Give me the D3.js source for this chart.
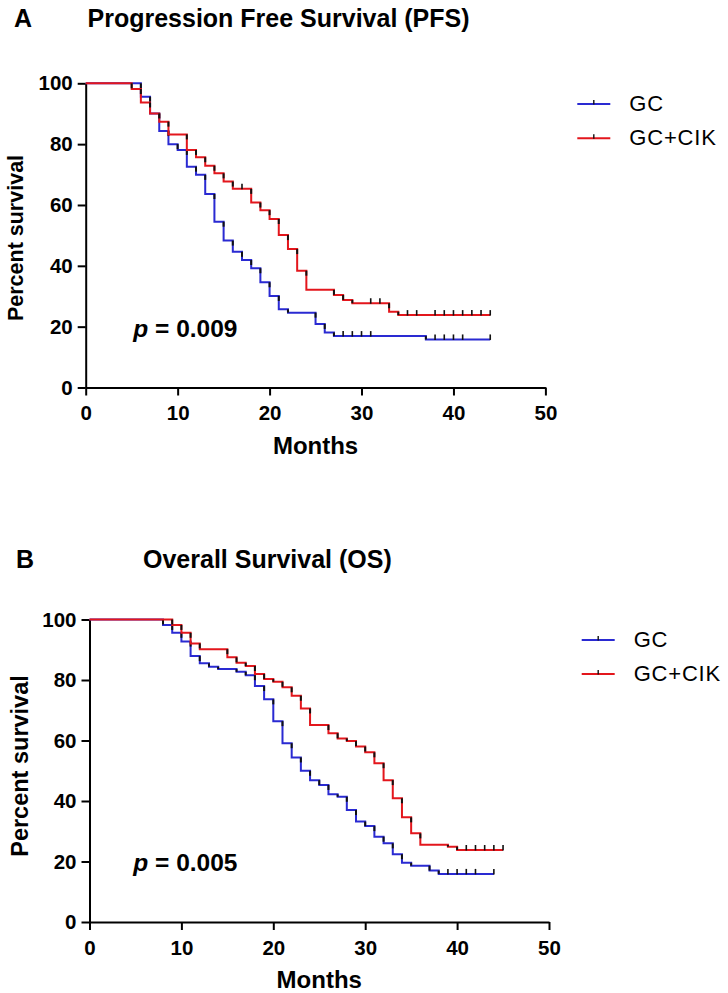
<!DOCTYPE html>
<html>
<head>
<meta charset="utf-8">
<script src="https://cdn.jsdelivr.net/npm/d3@7"></script>
<style>
body { margin: 0; background: #fff; }
text { font-family: "Liberation Sans", Arial, sans-serif; fill: #000; }
</style>
</head>
<body>
<svg width="728" height="993"></svg>
<script>
// data
var seriesNames = ['GC', 'GC+CIK'];
var panelLetters = ['A', 'B'];
var panelTitles = ['Progression Free Survival (PFS)', 'Overall Survival (OS)'];
var pValues = ['0.009', '0.005'];
var xTicks = [0, 10, 20, 30, 40, 50];
var yTicks = [0, 20, 40, 60, 80, 100];

var pfsGcTime   = [0, 6, 7, 8, 9, 10, 11, 12, 13, 14, 15, 16, 17, 18, 19, 20, 21, 22, 25, 26, 27, 37];
var pfsGcSurv   = [100, 95.6, 90.1, 84.3, 80.0, 78.1, 72.6, 69.9, 63.6, 54.5, 48.3, 44.6, 41.9, 39.2, 34.6, 30.1, 25.7, 24.6, 20.9, 18.1, 16.9, 15.8];
var pfsGcCensor = [28, 29, 30, 31, 38, 39, 40, 41, 44];

var pfsCikTime   = [0, 5, 6, 7, 8, 9, 11, 12, 13, 14, 15, 16, 18, 19, 20, 21, 22, 23, 24, 27, 28, 29, 33, 34];
var pfsCikSurv   = [100, 98.1, 93.7, 90.1, 87.4, 83.2, 78.1, 75.7, 72.9, 70.4, 67.7, 65.3, 60.8, 58.3, 55.4, 50.1, 45.5, 38.4, 32.1, 30.4, 28.8, 27.7, 24.9, 23.8];
var pfsCikCensor = [17, 31, 32, 35, 36, 38, 39, 40, 41, 42, 43, 44];

var osGcTime   = [0, 8, 9, 10, 11, 12, 13, 14, 16, 17, 18, 19, 20, 21, 22, 23, 24, 25, 26, 27, 28, 29, 30, 31, 32, 33, 34, 35, 37, 38];
var osGcSurv   = [100, 98.2, 95.6, 92.7, 87.9, 85.5, 84.4, 83.6, 82.7, 81.6, 78.0, 73.6, 66.4, 59.1, 54.4, 50.0, 46.9, 45.3, 42.2, 41.4, 37.0, 33.2, 31.7, 28.2, 26.0, 22.4, 19.6, 18.6, 17.0, 15.9];
var osGcCensor = [39, 40, 41, 42, 44];

var osCikTime   = [0, 9, 10, 11, 12, 15, 16, 17, 18, 19, 20, 21, 22, 23, 24, 26, 27, 28, 29, 30, 31, 32, 33, 34, 35, 36, 39, 40];
var osCikSurv   = [100, 98.2, 95.6, 92.1, 90.2, 87.5, 85.7, 84.6, 82.0, 80.3, 79.4, 77.6, 74.8, 70.6, 65.1, 62.4, 60.7, 59.8, 58.0, 56.1, 52.5, 46.9, 40.9, 34.6, 29.3, 25.5, 24.9, 23.8];
var osCikCensor = [41, 42, 43, 44, 45];

var colors = ['#2a2ad2', '#e3161c'];
var svg = d3.select('svg');
svg.append('rect').attr('width', 728).attr('height', 993).attr('fill', '#fff');

var panels = [
  { left: 85.7, right: 545.4, top: 83.3, bottom: 387.5, titleX: 87.5, titleY: 27, letterX: 14,
    yLabX: 23.3, yLabY: 238, yLabSize: 21.5, legX: 577.3, legY: [104, 138.3],
    curves: [[pfsGcTime, pfsGcSurv, pfsGcCensor], [pfsCikTime, pfsCikSurv, pfsCikCensor]] },
  { left: 89.5, right: 549, top: 619.5, bottom: 922, titleX: 143, titleY: 568, letterX: 16,
    yLabX: 28.3, yLabY: 766, yLabSize: 23.5, legX: 581.7, legY: [640, 674],
    curves: [[osGcTime, osGcSurv, osGcCensor], [osCikTime, osCikSurv, osCikCensor]] }
];

panels.forEach(function(p, pi) {
  var x = d3.scaleLinear().domain([0, 50]).range([p.left, p.right]),
      y = d3.scaleLinear().domain([0, 100]).range([p.bottom, p.top]);

  svg.append('text').attr('x', p.letterX).attr('y', p.titleY)
    .style('font-size', '25px').style('font-weight', 'bold').text(panelLetters[pi]);
  svg.append('text').attr('x', p.titleX).attr('y', p.titleY)
    .style('font-size', '25px').style('font-weight', 'bold').text(panelTitles[pi]);

  // axes
  var gx = svg.append('g').attr('transform', 'translate(0,' + p.bottom + ')')
    .call(d3.axisBottom(x).tickValues(xTicks).tickSize(8).tickSizeOuter(0).tickPadding(10));
  var gy = svg.append('g').attr('transform', 'translate(' + p.left + ',0)')
    .call(d3.axisLeft(y).tickValues(yTicks).tickSize(8).tickSizeOuter(0).tickPadding(5));
  [gx, gy].forEach(function(g) {
    g.select('.domain').attr('stroke', '#000').attr('stroke-width', 2);
    g.selectAll('.tick line').attr('stroke', '#000').attr('stroke-width', 2);
    g.selectAll('.tick text').attr('fill', '#000')
      .style('font-family', '"Liberation Sans", Arial, sans-serif')
      .style('font-size', '20.5px').style('font-weight', 'bold');
  });

  svg.append('text').attr('x', (p.left + p.right) / 2).attr('y', p.bottom + 66)
    .attr('text-anchor', 'middle').style('font-size', '24px').style('font-weight', 'bold').text('Months');
  svg.append('text').attr('transform', 'translate(' + p.yLabX + ',' + p.yLabY + ') rotate(-90)')
    .attr('text-anchor', 'middle').style('font-size', p.yLabSize + 'px').style('font-weight', 'bold')
    .text('Percent survival');

  var pt = svg.append('text').attr('x', 133.3).attr('y', p.bottom - 50.8)
    .style('font-size', '24.5px').style('font-weight', 'bold');
  pt.append('tspan').style('font-style', 'italic').text('p');
  pt.append('tspan').text(' = ' + pValues[pi]);

  // survival curves
  var line = d3.line().curve(d3.curveStepAfter)
    .x(function(d) { return x(d[0]); }).y(function(d) { return y(d[1]); });

  p.curves.forEach(function(c, ci) {
    var times = c[0], surv = c[1], cens = c[2];
    var end = d3.max([d3.max(times), d3.max(cens)]);
    var pts = times.map(function(t, i) { return [t, surv[i]]; });
    pts.push([end, surv[surv.length - 1]]);
    var g = svg.append('g');
    g.append('path').attr('d', line(pts)).attr('fill', 'none')
      .attr('stroke', colors[ci]).attr('stroke-width', 2);

    // dark cap on top of each drop
    g.selectAll('line.cap').data(d3.range(1, times.length)).enter().append('line')
      .attr('x1', function(i) { return x(times[i]); })
      .attr('x2', function(i) { return x(times[i]); })
      .attr('y1', function(i) { return y(surv[i - 1]); })
      .attr('y2', function(i) { return Math.min(y(surv[i - 1]) + 5, y(surv[i])); })
      .attr('stroke', '#111').attr('stroke-width', 2);

    // censor marks
    g.selectAll('line.cens').data(cens).enter().append('line')
      .attr('x1', function(t) { return x(t); })
      .attr('x2', function(t) { return x(t); })
      .attr('y1', function(t) { return y(surv[d3.bisectRight(times, t) - 1]) - 5; })
      .attr('y2', function(t) { return y(surv[d3.bisectRight(times, t) - 1]) + 0.5; })
      .attr('stroke', '#111').attr('stroke-width', 1.6);

    // legend
    var ly = p.legY[ci];
    svg.append('line').attr('x1', p.legX).attr('x2', p.legX + 33).attr('y1', ly).attr('y2', ly)
      .attr('stroke', colors[ci]).attr('stroke-width', 2);
    svg.append('line').attr('x1', p.legX + 16.5).attr('x2', p.legX + 16.5).attr('y1', ly - 4).attr('y2', ly + 0.5)
      .attr('stroke', '#111').attr('stroke-width', 1.4);
    svg.append('text').attr('x', p.legX + 52).attr('y', ly + 7)
      .style('font-size', '22px').style('letter-spacing', '0.8px').text(seriesNames[ci]);
  });
});
</script>
</body>
</html>
